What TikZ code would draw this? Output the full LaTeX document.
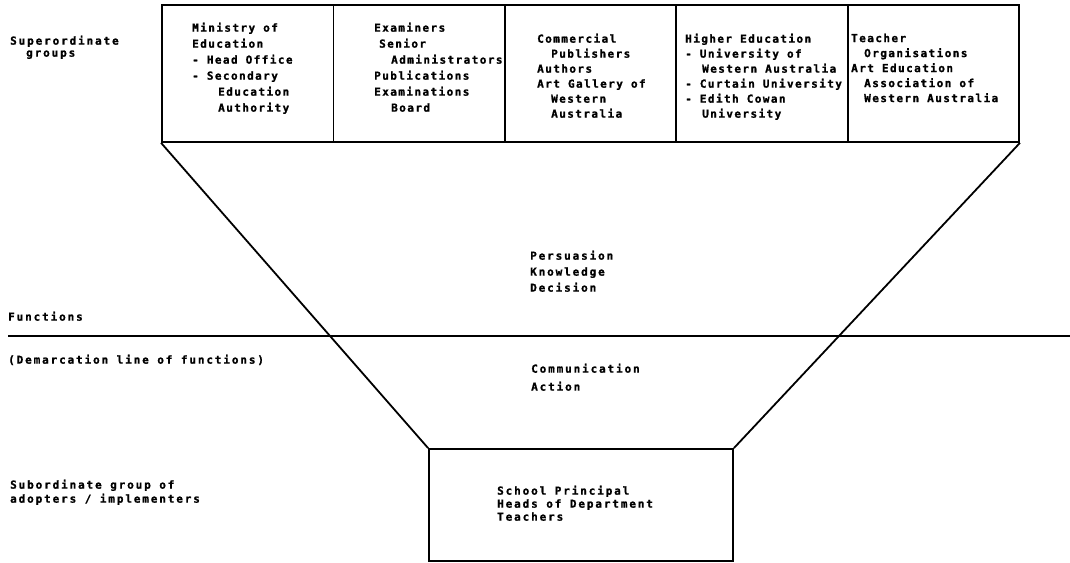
\documentclass[tikz,border=0pt]{standalone}
\usepackage{fontspec}
\newfontfamily\plotfont{DejaVu Sans Mono}[UprightFont={* Bold}, LetterSpace=13, FakeBold=1.2]
\newfontfamily\plotwide{DejaVu Sans Mono}[UprightFont={* Bold}, LetterSpace=17, FakeBold=1.2]
\begin{document}
\begin{tikzpicture}[x=1pt,y=-1pt,
  frame/.style={draw, line width=1.8pt, inner sep=0pt, minimum width=171.4pt, minimum height=137pt},
  boxtxt/.style={inner sep=0pt, anchor=north west, align=left, font=\plotfont\fontsize{11}{#1}\selectfont},
  boxtxt/.default=16,
  txt/.style={inner sep=0pt, anchor=north west, align=left, font=\plotwide\fontsize{11}{#1}\selectfont},
  txt/.default=13,
  rule/.style={line width=1.8pt}]
\useasboundingbox (0,0) rectangle (1070,562);
% top boxes
\node[frame] (b1) at (247.7,73.5) {};
\node[frame] (b2) at (419.1,73.5) {};
\node[frame] (b3) at (590.5,73.5) {};
\node[frame] (b4) at (761.9,73.5) {};
\node[frame] (b5) at (933.3,73.5) {};
% bottom box
\node[draw, line width=1.8pt, inner sep=0pt, minimum width=304pt, minimum height=112pt] (bot) at (581,505) {};
% box texts
\node[boxtxt] (t1) at (192,22.5) {Ministry of\\Education\\- Head Office\\- Secondary\\\hspace*{26pt}Education\\\hspace*{26pt}Authority};
\node[boxtxt] (t2) at (374,22.5) {Examiners\\\hspace*{5pt}Senior\\\hspace*{17pt}Administrators\\Publications\\Examinations\\\hspace*{17pt}Board};
\node[boxtxt=15] (t3) at (537,33.5) {Commercial\\\hspace*{14pt}Publishers\\Authors\\Art Gallery of\\\hspace*{14pt}Western\\\hspace*{14pt}Australia};
\node[boxtxt=15] (t4) at (685,33.5) {Higher Education\\- University of\\\hspace*{17pt}Western Australia\\- Curtain University\\- Edith Cowan\\\hspace*{17pt}University};
\node[boxtxt=15] (t5) at (851,33.5) {Teacher\\\hspace*{13pt}Organisations\\Art Education\\\hspace*{13pt}Association of\\\hspace*{13pt}Western Australia};
% funnel
\draw[rule] (b1.south west) -- (bot.north west);
\draw[rule] (b5.south east) -- (bot.north east);
% demarcation line
\coordinate (dl) at (8,336);
\coordinate (dr) at (1070,336);
\draw[rule] (dl) -- (dr);
% left labels
\node[txt=12] (sup) at (10,35.5) {Superordinate\\\hspace*{16pt}groups};
\node[txt] (fun) at (8,311.5) {Functions};
\node[txt] (dem) at (8,354.5) {(Demarcation line of functions)};
\node[txt=14] (sub) at (10,479.5) {Subordinate group of\\adopters / implementers};
% middle texts
\node[txt=16] (pkd) at (530,250.5) {Persuasion\\Knowledge\\Decision};
\node[txt=18] (ca) at (531,363.5) {Communication\\Action};
\node[txt] (sch) at (497,485.5) {School Principal\\Heads of Department\\Teachers};
\end{tikzpicture}
\end{document}
